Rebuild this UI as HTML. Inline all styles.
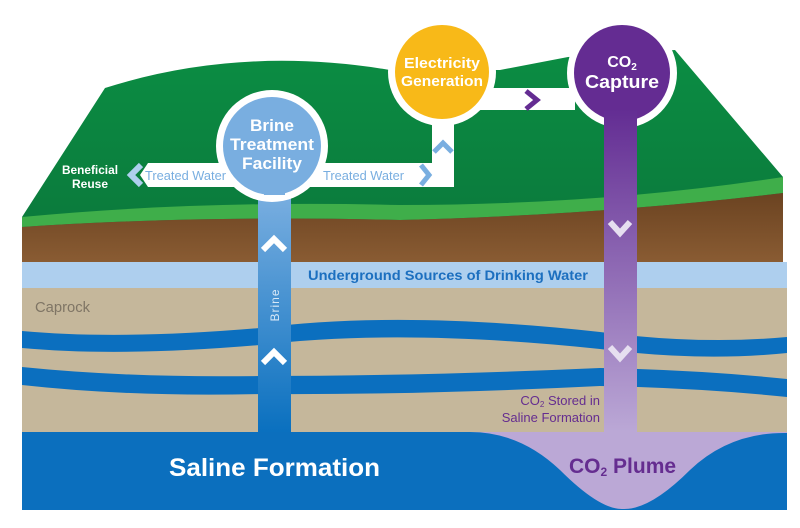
<!DOCTYPE html>
<html><head><meta charset="utf-8"><style>
html,body{margin:0;padding:0;background:#fff;}
svg{display:block;}
text{font-family:"Liberation Sans Narrow","Liberation Sans",sans-serif;}
</style></head><body>
<svg width="800" height="528" viewBox="0 0 800 528" xmlns="http://www.w3.org/2000/svg">
<defs>
<linearGradient id="gr" x1="0" y1="0" x2="0" y2="1"><stop offset="0" stop-color="#0b8d43"/><stop offset="1" stop-color="#0b7a3c"/></linearGradient>
<linearGradient id="br" x1="0" y1="0" x2="0" y2="1"><stop offset="0" stop-color="#6b4321"/><stop offset="1" stop-color="#8a5c33"/></linearGradient>
<linearGradient id="bp" x1="0" y1="0" x2="0" y2="1"><stop offset="0" stop-color="#80b2e2"/><stop offset="1" stop-color="#0a70bf"/></linearGradient>
<linearGradient id="pp" x1="0" y1="0" x2="0" y2="1"><stop offset="0" stop-color="#632d93"/><stop offset="1" stop-color="#bba8d6"/></linearGradient>
</defs>
<!-- green hill -->
<path d="M22,217 L105,88 Q240,45 390,70 L500,70 L568,57 L675,50 L783,177 L783,230 L22,230 Z" fill="url(#gr)"/>
<!-- light green band -->
<path d="M22,217 Q200,200 400,205 Q600,205 783,177 L783,193 Q600,215 400,220 Q200,215 22,227 Z" fill="#3fae4a"/>
<!-- brown -->
<path d="M22,227 Q200,215 400,220 Q600,215 783,193 L783,263 L22,263 Z" fill="url(#br)"/>
<!-- USDW -->
<rect x="22" y="262" width="765" height="26" fill="#aecfee"/>
<!-- caprock -->
<rect x="22" y="288" width="765" height="145" fill="#c5b79b"/>
<!-- blue bands -->
<path d="M22,331 Q120,340 260,328 Q400,310 600,332 Q700,345 787,337 L787,353 Q700,362 600,349 Q400,328 260,345 Q120,357 22,348 Z" fill="#0b6fbf"/>
<path d="M22,367 Q130,378 260,376 Q420,376 600,368 Q700,370 787,379 L787,397 Q700,388 600,386 Q420,395 260,394 Q130,397 22,385 Z" fill="#0b6fbf"/>
<!-- saline formation -->
<rect x="22" y="432" width="765" height="78" fill="#0b6fbe"/>
<path d="M470,432 Q520,432 560,470 Q600,510 623,509 Q650,510 690,470 Q730,432 787,433 L787,432 Z" fill="#bba8d6"/>
<!-- brine pipe -->
<rect x="258" y="180" width="33" height="252" fill="url(#bp)"/>
<!-- white channels -->
<path d="M140,175 L148,163 L432,163 L432,110 L454,110 L454,187 L148,187 Z" fill="#fff"/>
<rect x="470" y="88" width="105" height="22" fill="#fff"/>
<!-- circles -->
<circle cx="272" cy="146" r="56" fill="#fff"/>
<circle cx="272" cy="146" r="49" fill="#79aee0"/>
<circle cx="442" cy="72" r="54" fill="#fff"/>
<circle cx="442" cy="72" r="47" fill="#f8b918"/>
<circle cx="622" cy="73" r="55" fill="#fff"/>
<circle cx="622" cy="73" r="48" fill="#642c92"/>
<rect x="604" y="110" width="33" height="322" fill="url(#pp)"/>
<rect x="264" y="185" width="21" height="10" fill="#79aee0"/>
<!-- chevrons -->
<polyline points="141,165 131,175 141,185" fill="none" stroke="#aecfee" stroke-width="6"/>
<polyline points="421,165 429,175 421,185" fill="none" stroke="#79aee0" stroke-width="5"/>
<polyline points="434,152 443,143 452,152" fill="none" stroke="#79aee0" stroke-width="5"/>
<polyline points="526,91 537,100 526,109" fill="none" stroke="#642c92" stroke-width="5"/>
<polyline points="263,250 274,239 285,250" fill="none" stroke="#fff" stroke-width="6"/>
<polyline points="263,363 274,352 285,363" fill="none" stroke="#fff" stroke-width="6"/>
<polyline points="610,222 620,233 630,222" fill="none" stroke="#e6dff0" stroke-width="6"/>
<polyline points="610,347 620,358 630,347" fill="none" stroke="#e6dff0" stroke-width="6"/>
<!-- text -->
<g font-weight="bold" fill="#fff" text-anchor="middle">
<text x="272" y="131" font-size="17" textLength="44" lengthAdjust="spacingAndGlyphs">Brine</text>
<text x="272" y="150" font-size="17" textLength="84" lengthAdjust="spacingAndGlyphs">Treatment</text>
<text x="272" y="169" font-size="17" textLength="60" lengthAdjust="spacingAndGlyphs">Facility</text>
<text x="442" y="68" font-size="15" textLength="76" lengthAdjust="spacingAndGlyphs">Electricity</text>
<text x="442" y="86" font-size="15" textLength="82" lengthAdjust="spacingAndGlyphs">Generation</text>
<text x="622" y="67" font-size="16">CO<tspan font-size="10" dy="3">2</tspan></text>
<text x="622" y="88" font-size="18" textLength="74" lengthAdjust="spacingAndGlyphs">Capture</text>
<text x="90" y="174" font-size="12" textLength="56" lengthAdjust="spacingAndGlyphs">Beneficial</text>
<text x="90" y="188" font-size="12" textLength="36" lengthAdjust="spacingAndGlyphs">Reuse</text>
</g>
<text x="145" y="180" font-size="13" fill="#79aee0" textLength="81" lengthAdjust="spacingAndGlyphs">Treated Water</text>
<text x="323" y="180" font-size="13" fill="#79aee0" textLength="81" lengthAdjust="spacingAndGlyphs">Treated Water</text>
<text x="308" y="280" font-size="14" font-weight="bold" fill="#1c6fbf" textLength="280" lengthAdjust="spacingAndGlyphs">Underground Sources of Drinking Water</text>
<text x="35" y="312" font-size="15" fill="#7f7565" textLength="55" lengthAdjust="spacingAndGlyphs">Caprock</text>
<text transform="translate(279,305) rotate(-90)" font-size="12" fill="#d8e8f7" text-anchor="middle" letter-spacing="1">Brine</text>
<text x="600" y="405" font-size="13" fill="#652d90" text-anchor="end">CO<tspan font-size="8" dy="2">2</tspan><tspan dy="-2"> Stored in</tspan></text>
<text x="600" y="422" font-size="13" fill="#652d90" text-anchor="end">Saline Formation</text>
<text x="169" y="476" font-size="25" font-weight="bold" fill="#fff" textLength="211" lengthAdjust="spacingAndGlyphs">Saline Formation</text>
<text x="569" y="473" font-size="21" font-weight="bold" fill="#652d90">CO<tspan font-size="12" dy="3">2</tspan><tspan dy="-3"> Plume</tspan></text>
</svg>
</body></html>
